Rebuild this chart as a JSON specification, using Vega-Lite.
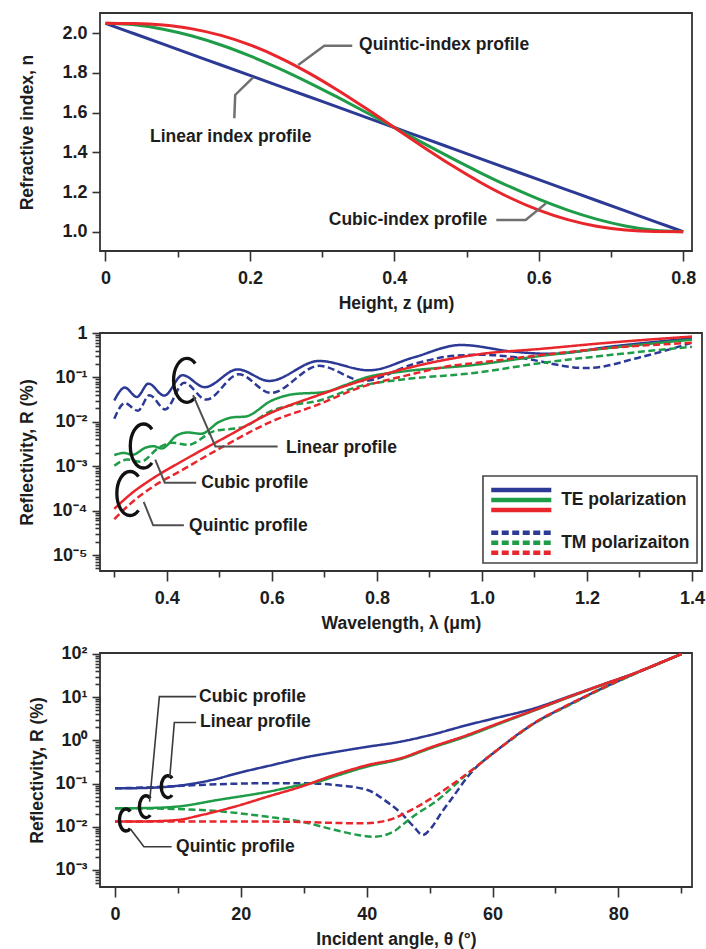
{
  "$schema": "https://vega.github.io/schema/vega-lite/v6.json",
  "background": "white",
  "padding": {"left": 17, "top": 12, "right": 0, "bottom": 0},
  "spacing": 82,
  "bounds": "flush",
  "config": {
    "font": "Liberation Sans, Arial, sans-serif",
    "view": {"stroke": "#333333", "strokeWidth": 1.8},
    "axis": {
      "domain": false, "grid": false,
      "labelFontSize": 18, "labelFontWeight": "bold", "labelColor": "#1d1d1d",
      "titleFontSize": 17.5, "titleFontWeight": "bold", "titleColor": "#1d1d1d",
      "tickColor": "#333333", "tickWidth": 1.6,
      "labelOverlap": false, "labelFlush": false, "labelBound": false
    },
    "axisX": {"labelPadding": 8, "titlePadding": 7},
    "axisY": {"labelPadding": 5, "minExtent": 40, "maxExtent": 40},
    "text": {"fontSize": 17.5, "fontWeight": "bold", "color": "#1d1d1d"}
  },
  "datasets": {
    "index": [
      {"z": 0, "n": 2.05, "p": "Linear"}, {"z": 0.04, "n": 1.9975, "p": "Linear"}, {"z": 0.08, "n": 1.945, "p": "Linear"},
      {"z": 0.12, "n": 1.8925, "p": "Linear"}, {"z": 0.16, "n": 1.84, "p": "Linear"}, {"z": 0.2, "n": 1.7875, "p": "Linear"},
      {"z": 0.24, "n": 1.735, "p": "Linear"}, {"z": 0.28, "n": 1.6825, "p": "Linear"}, {"z": 0.32, "n": 1.63, "p": "Linear"},
      {"z": 0.36, "n": 1.5775, "p": "Linear"}, {"z": 0.4, "n": 1.525, "p": "Linear"}, {"z": 0.44, "n": 1.4725, "p": "Linear"},
      {"z": 0.48, "n": 1.42, "p": "Linear"}, {"z": 0.52, "n": 1.3675, "p": "Linear"}, {"z": 0.56, "n": 1.315, "p": "Linear"},
      {"z": 0.6, "n": 1.2625, "p": "Linear"}, {"z": 0.64, "n": 1.21, "p": "Linear"}, {"z": 0.68, "n": 1.1575, "p": "Linear"},
      {"z": 0.72, "n": 1.105, "p": "Linear"}, {"z": 0.76, "n": 1.0525, "p": "Linear"}, {"z": 0.8, "n": 1.0, "p": "Linear"},
      {"z": 0, "n": 2.05, "p": "Cubic"}, {"z": 0.04, "n": 2.0424, "p": "Cubic"}, {"z": 0.08, "n": 2.0206, "p": "Cubic"},
      {"z": 0.12, "n": 1.9862, "p": "Cubic"}, {"z": 0.16, "n": 1.9408, "p": "Cubic"}, {"z": 0.2, "n": 1.8859, "p": "Cubic"},
      {"z": 0.24, "n": 1.8232, "p": "Cubic"}, {"z": 0.28, "n": 1.7542, "p": "Cubic"}, {"z": 0.32, "n": 1.6804, "p": "Cubic"},
      {"z": 0.36, "n": 1.6035, "p": "Cubic"}, {"z": 0.4, "n": 1.525, "p": "Cubic"}, {"z": 0.44, "n": 1.4465, "p": "Cubic"},
      {"z": 0.48, "n": 1.3696, "p": "Cubic"}, {"z": 0.52, "n": 1.2958, "p": "Cubic"}, {"z": 0.56, "n": 1.2268, "p": "Cubic"},
      {"z": 0.6, "n": 1.1641, "p": "Cubic"}, {"z": 0.64, "n": 1.1092, "p": "Cubic"}, {"z": 0.68, "n": 1.0638, "p": "Cubic"},
      {"z": 0.72, "n": 1.0294, "p": "Cubic"}, {"z": 0.76, "n": 1.0076, "p": "Cubic"}, {"z": 0.8, "n": 1.0, "p": "Cubic"},
      {"z": 0, "n": 2.05, "p": "Quintic"}, {"z": 0.04, "n": 2.0488, "p": "Quintic"}, {"z": 0.08, "n": 2.041, "p": "Quintic"},
      {"z": 0.12, "n": 2.0221, "p": "Quintic"}, {"z": 0.16, "n": 1.9892, "p": "Quintic"}, {"z": 0.2, "n": 1.9413, "p": "Quintic"},
      {"z": 0.24, "n": 1.8788, "p": "Quintic"}, {"z": 0.28, "n": 1.8031, "p": "Quintic"}, {"z": 0.32, "n": 1.7167, "p": "Quintic"},
      {"z": 0.36, "n": 1.6228, "p": "Quintic"}, {"z": 0.4, "n": 1.525, "p": "Quintic"}, {"z": 0.44, "n": 1.4272, "p": "Quintic"},
      {"z": 0.48, "n": 1.3333, "p": "Quintic"}, {"z": 0.52, "n": 1.2469, "p": "Quintic"}, {"z": 0.56, "n": 1.1712, "p": "Quintic"},
      {"z": 0.6, "n": 1.1087, "p": "Quintic"}, {"z": 0.64, "n": 1.0608, "p": "Quintic"}, {"z": 0.68, "n": 1.0279, "p": "Quintic"},
      {"z": 0.72, "n": 1.009, "p": "Quintic"}, {"z": 0.76, "n": 1.0012, "p": "Quintic"}, {"z": 0.8, "n": 1.0, "p": "Quintic"}
    ],
    "spectrum": [
      {"w": 0.30, "R": 0.0302, "p": "Linear", "pol": "TE"}, {"w": 0.32, "R": 0.0589, "p": "Linear", "pol": "TE"},
      {"w": 0.343, "R": 0.0363, "p": "Linear", "pol": "TE"}, {"w": 0.365, "R": 0.0724, "p": "Linear", "pol": "TE"},
      {"w": 0.395, "R": 0.0389, "p": "Linear", "pol": "TE"}, {"w": 0.43, "R": 0.1122, "p": "Linear", "pol": "TE"},
      {"w": 0.472, "R": 0.0603, "p": "Linear", "pol": "TE"}, {"w": 0.535, "R": 0.1514, "p": "Linear", "pol": "TE"},
      {"w": 0.595, "R": 0.0832, "p": "Linear", "pol": "TE"}, {"w": 0.69, "R": 0.2344, "p": "Linear", "pol": "TE"},
      {"w": 0.785, "R": 0.1445, "p": "Linear", "pol": "TE"}, {"w": 0.87, "R": 0.282, "p": "Linear", "pol": "TE"},
      {"w": 0.96, "R": 0.537, "p": "Linear", "pol": "TE"}, {"w": 1.06, "R": 0.38, "p": "Linear", "pol": "TE"},
      {"w": 1.13, "R": 0.339, "p": "Linear", "pol": "TE"}, {"w": 1.25, "R": 0.501, "p": "Linear", "pol": "TE"},
      {"w": 1.40, "R": 0.759, "p": "Linear", "pol": "TE"},
      {"w": 0.30, "R": 0.01175, "p": "Linear", "pol": "TM"}, {"w": 0.32, "R": 0.0263, "p": "Linear", "pol": "TM"},
      {"w": 0.345, "R": 0.01778, "p": "Linear", "pol": "TM"}, {"w": 0.367, "R": 0.0398, "p": "Linear", "pol": "TM"},
      {"w": 0.397, "R": 0.01905, "p": "Linear", "pol": "TM"}, {"w": 0.433, "R": 0.0759, "p": "Linear", "pol": "TM"},
      {"w": 0.475, "R": 0.0316, "p": "Linear", "pol": "TM"}, {"w": 0.537, "R": 0.1175, "p": "Linear", "pol": "TM"},
      {"w": 0.598, "R": 0.0447, "p": "Linear", "pol": "TM"}, {"w": 0.69, "R": 0.182, "p": "Linear", "pol": "TM"},
      {"w": 0.775, "R": 0.0832, "p": "Linear", "pol": "TM"}, {"w": 0.87, "R": 0.1995, "p": "Linear", "pol": "TM"},
      {"w": 0.95, "R": 0.309, "p": "Linear", "pol": "TM"}, {"w": 1.0, "R": 0.324, "p": "Linear", "pol": "TM"},
      {"w": 1.06, "R": 0.288, "p": "Linear", "pol": "TM"}, {"w": 1.2, "R": 0.162, "p": "Linear", "pol": "TM"},
      {"w": 1.3, "R": 0.282, "p": "Linear", "pol": "TM"}, {"w": 1.4, "R": 0.603, "p": "Linear", "pol": "TM"},
      {"w": 0.30, "R": 0.001778, "p": "Cubic", "pol": "TE"}, {"w": 0.318, "R": 0.001995, "p": "Cubic", "pol": "TE"},
      {"w": 0.335, "R": 0.00182, "p": "Cubic", "pol": "TE"}, {"w": 0.36, "R": 0.00263, "p": "Cubic", "pol": "TE"},
      {"w": 0.375, "R": 0.002818, "p": "Cubic", "pol": "TE"}, {"w": 0.39, "R": 0.002512, "p": "Cubic", "pol": "TE"},
      {"w": 0.42, "R": 0.005012, "p": "Cubic", "pol": "TE"}, {"w": 0.44, "R": 0.005754, "p": "Cubic", "pol": "TE"},
      {"w": 0.465, "R": 0.00537, "p": "Cubic", "pol": "TE"}, {"w": 0.5, "R": 0.01, "p": "Cubic", "pol": "TE"},
      {"w": 0.525, "R": 0.01259, "p": "Cubic", "pol": "TE"}, {"w": 0.55, "R": 0.01318, "p": "Cubic", "pol": "TE"},
      {"w": 0.6, "R": 0.0302, "p": "Cubic", "pol": "TE"}, {"w": 0.64, "R": 0.0417, "p": "Cubic", "pol": "TE"},
      {"w": 0.7, "R": 0.0468, "p": "Cubic", "pol": "TE"}, {"w": 0.74, "R": 0.0676, "p": "Cubic", "pol": "TE"},
      {"w": 0.78, "R": 0.1, "p": "Cubic", "pol": "TE"}, {"w": 0.855, "R": 0.138, "p": "Cubic", "pol": "TE"},
      {"w": 0.985, "R": 0.1905, "p": "Cubic", "pol": "TE"}, {"w": 1.11, "R": 0.302, "p": "Cubic", "pol": "TE"},
      {"w": 1.24, "R": 0.457, "p": "Cubic", "pol": "TE"}, {"w": 1.4, "R": 0.708, "p": "Cubic", "pol": "TE"},
      {"w": 0.30, "R": 0.001023, "p": "Cubic", "pol": "TM"}, {"w": 0.325, "R": 0.001413, "p": "Cubic", "pol": "TM"},
      {"w": 0.35, "R": 0.001259, "p": "Cubic", "pol": "TM"}, {"w": 0.385, "R": 0.00263, "p": "Cubic", "pol": "TM"},
      {"w": 0.41, "R": 0.00339, "p": "Cubic", "pol": "TM"}, {"w": 0.44, "R": 0.00302, "p": "Cubic", "pol": "TM"},
      {"w": 0.49, "R": 0.00617, "p": "Cubic", "pol": "TM"}, {"w": 0.545, "R": 0.00759, "p": "Cubic", "pol": "TM"},
      {"w": 0.598, "R": 0.01738, "p": "Cubic", "pol": "TM"}, {"w": 0.64, "R": 0.02399, "p": "Cubic", "pol": "TM"},
      {"w": 0.684, "R": 0.02884, "p": "Cubic", "pol": "TM"}, {"w": 0.77, "R": 0.06457, "p": "Cubic", "pol": "TM"},
      {"w": 0.855, "R": 0.0912, "p": "Cubic", "pol": "TM"}, {"w": 0.985, "R": 0.1259, "p": "Cubic", "pol": "TM"},
      {"w": 1.11, "R": 0.2089, "p": "Cubic", "pol": "TM"}, {"w": 1.24, "R": 0.3162, "p": "Cubic", "pol": "TM"},
      {"w": 1.4, "R": 0.4898, "p": "Cubic", "pol": "TM"},
      {"w": 0.30, "R": 0.0001096, "p": "Quintic", "pol": "TE"}, {"w": 0.332, "R": 0.0002399, "p": "Quintic", "pol": "TE"},
      {"w": 0.37, "R": 0.0005012, "p": "Quintic", "pol": "TE"}, {"w": 0.427, "R": 0.001259, "p": "Quintic", "pol": "TE"},
      {"w": 0.513, "R": 0.004571, "p": "Quintic", "pol": "TE"}, {"w": 0.598, "R": 0.01585, "p": "Quintic", "pol": "TE"},
      {"w": 0.684, "R": 0.038, "p": "Quintic", "pol": "TE"}, {"w": 0.77, "R": 0.0832, "p": "Quintic", "pol": "TE"},
      {"w": 0.855, "R": 0.1585, "p": "Quintic", "pol": "TE"}, {"w": 0.941, "R": 0.263, "p": "Quintic", "pol": "TE"},
      {"w": 1.0, "R": 0.339, "p": "Quintic", "pol": "TE"}, {"w": 1.11, "R": 0.437, "p": "Quintic", "pol": "TE"},
      {"w": 1.24, "R": 0.603, "p": "Quintic", "pol": "TE"}, {"w": 1.4, "R": 0.832, "p": "Quintic", "pol": "TE"},
      {"w": 0.30, "R": 0.0000646, "p": "Quintic", "pol": "TM"}, {"w": 0.332, "R": 0.000148, "p": "Quintic", "pol": "TM"},
      {"w": 0.37, "R": 0.000324, "p": "Quintic", "pol": "TM"}, {"w": 0.427, "R": 0.000794, "p": "Quintic", "pol": "TM"},
      {"w": 0.513, "R": 0.00302, "p": "Quintic", "pol": "TM"}, {"w": 0.598, "R": 0.01, "p": "Quintic", "pol": "TM"},
      {"w": 0.684, "R": 0.0234, "p": "Quintic", "pol": "TM"}, {"w": 0.77, "R": 0.0603, "p": "Quintic", "pol": "TM"},
      {"w": 0.855, "R": 0.1096, "p": "Quintic", "pol": "TM"}, {"w": 0.941, "R": 0.182, "p": "Quintic", "pol": "TM"},
      {"w": 1.0, "R": 0.2188, "p": "Quintic", "pol": "TM"}, {"w": 1.11, "R": 0.316, "p": "Quintic", "pol": "TM"},
      {"w": 1.24, "R": 0.457, "p": "Quintic", "pol": "TM"}, {"w": 1.4, "R": 0.603, "p": "Quintic", "pol": "TM"}
    ],
    "angle": [
      {"a": 0, "R": 0.0776, "p": "Linear", "pol": "TE"}, {"a": 5, "R": 0.0794, "p": "Linear", "pol": "TE"},
      {"a": 10, "R": 0.0891, "p": "Linear", "pol": "TE"}, {"a": 15, "R": 0.1175, "p": "Linear", "pol": "TE"},
      {"a": 20, "R": 0.182, "p": "Linear", "pol": "TE"}, {"a": 25, "R": 0.269, "p": "Linear", "pol": "TE"},
      {"a": 30, "R": 0.398, "p": "Linear", "pol": "TE"}, {"a": 35, "R": 0.537, "p": "Linear", "pol": "TE"},
      {"a": 40, "R": 0.708, "p": "Linear", "pol": "TE"}, {"a": 45, "R": 0.912, "p": "Linear", "pol": "TE"},
      {"a": 50, "R": 1.318, "p": "Linear", "pol": "TE"}, {"a": 56, "R": 2.27, "p": "Linear", "pol": "TE"},
      {"a": 60, "R": 3.162, "p": "Linear", "pol": "TE"}, {"a": 66.6, "R": 5.5, "p": "Linear", "pol": "TE"},
      {"a": 72, "R": 10.23, "p": "Linear", "pol": "TE"}, {"a": 77.25, "R": 19.05, "p": "Linear", "pol": "TE"},
      {"a": 82.5, "R": 35.48, "p": "Linear", "pol": "TE"}, {"a": 90, "R": 100, "p": "Linear", "pol": "TE"},
      {"a": 0, "R": 0.0776, "p": "Linear", "pol": "TM"}, {"a": 5, "R": 0.0813, "p": "Linear", "pol": "TM"},
      {"a": 13.67, "R": 0.0933, "p": "Linear", "pol": "TM"}, {"a": 24.3, "R": 0.1023, "p": "Linear", "pol": "TM"},
      {"a": 30, "R": 0.1023, "p": "Linear", "pol": "TM"}, {"a": 34.85, "R": 0.0933, "p": "Linear", "pol": "TM"},
      {"a": 40.16, "R": 0.0708, "p": "Linear", "pol": "TM"}, {"a": 43, "R": 0.0398, "p": "Linear", "pol": "TM"},
      {"a": 45.5, "R": 0.0204, "p": "Linear", "pol": "TM"}, {"a": 47.5, "R": 0.01, "p": "Linear", "pol": "TM"},
      {"a": 48.9, "R": 0.00646, "p": "Linear", "pol": "TM"}, {"a": 50.3, "R": 0.00955, "p": "Linear", "pol": "TM"},
      {"a": 51.8, "R": 0.0204, "p": "Linear", "pol": "TM"}, {"a": 54, "R": 0.0562, "p": "Linear", "pol": "TM"},
      {"a": 56.05, "R": 0.1445, "p": "Linear", "pol": "TM"}, {"a": 61.3, "R": 0.69, "p": "Linear", "pol": "TM"},
      {"a": 66.64, "R": 2.5, "p": "Linear", "pol": "TM"}, {"a": 71.95, "R": 6.46, "p": "Linear", "pol": "TM"},
      {"a": 77.25, "R": 15.5, "p": "Linear", "pol": "TM"}, {"a": 82.53, "R": 34.7, "p": "Linear", "pol": "TM"},
      {"a": 90, "R": 100, "p": "Linear", "pol": "TM"},
      {"a": 0, "R": 0.0269, "p": "Cubic", "pol": "TE"}, {"a": 5, "R": 0.0272, "p": "Cubic", "pol": "TE"},
      {"a": 10, "R": 0.0295, "p": "Cubic", "pol": "TE"}, {"a": 16.3, "R": 0.0417, "p": "Cubic", "pol": "TE"},
      {"a": 24.3, "R": 0.0646, "p": "Cubic", "pol": "TE"}, {"a": 29.6, "R": 0.0933, "p": "Cubic", "pol": "TE"},
      {"a": 32.2, "R": 0.1096, "p": "Cubic", "pol": "TE"}, {"a": 35, "R": 0.148, "p": "Cubic", "pol": "TE"},
      {"a": 40.2, "R": 0.251, "p": "Cubic", "pol": "TE"}, {"a": 45.45, "R": 0.372, "p": "Cubic", "pol": "TE"},
      {"a": 50, "R": 0.646, "p": "Cubic", "pol": "TE"}, {"a": 56, "R": 1.259, "p": "Cubic", "pol": "TE"},
      {"a": 61, "R": 2.399, "p": "Cubic", "pol": "TE"}, {"a": 66.6, "R": 4.898, "p": "Cubic", "pol": "TE"},
      {"a": 72, "R": 9.77, "p": "Cubic", "pol": "TE"}, {"a": 77.25, "R": 18.62, "p": "Cubic", "pol": "TE"},
      {"a": 82.5, "R": 35.08, "p": "Cubic", "pol": "TE"}, {"a": 90, "R": 100, "p": "Cubic", "pol": "TE"},
      {"a": 0, "R": 0.0269, "p": "Cubic", "pol": "TM"}, {"a": 5, "R": 0.0266, "p": "Cubic", "pol": "TM"},
      {"a": 13.67, "R": 0.0245, "p": "Cubic", "pol": "TM"}, {"a": 24.3, "R": 0.017, "p": "Cubic", "pol": "TM"},
      {"a": 29.6, "R": 0.0132, "p": "Cubic", "pol": "TM"}, {"a": 34.85, "R": 0.00851, "p": "Cubic", "pol": "TM"},
      {"a": 38.6, "R": 0.00646, "p": "Cubic", "pol": "TM"}, {"a": 41.2, "R": 0.00589, "p": "Cubic", "pol": "TM"},
      {"a": 44.4, "R": 0.00794, "p": "Cubic", "pol": "TM"}, {"a": 45.45, "R": 0.01047, "p": "Cubic", "pol": "TM"},
      {"a": 48, "R": 0.02, "p": "Cubic", "pol": "TM"}, {"a": 50.75, "R": 0.0363, "p": "Cubic", "pol": "TM"},
      {"a": 56.05, "R": 0.17, "p": "Cubic", "pol": "TM"}, {"a": 61.35, "R": 0.69, "p": "Cubic", "pol": "TM"},
      {"a": 66.64, "R": 2.45, "p": "Cubic", "pol": "TM"}, {"a": 71.95, "R": 6.3, "p": "Cubic", "pol": "TM"},
      {"a": 77.25, "R": 15.2, "p": "Cubic", "pol": "TM"}, {"a": 82.53, "R": 34.2, "p": "Cubic", "pol": "TM"},
      {"a": 90, "R": 100, "p": "Cubic", "pol": "TM"},
      {"a": 0, "R": 0.01318, "p": "Quintic", "pol": "TE"}, {"a": 5, "R": 0.01334, "p": "Quintic", "pol": "TE"},
      {"a": 10, "R": 0.01445, "p": "Quintic", "pol": "TE"}, {"a": 13.67, "R": 0.0186, "p": "Quintic", "pol": "TE"},
      {"a": 19, "R": 0.0292, "p": "Quintic", "pol": "TE"}, {"a": 24.3, "R": 0.0501, "p": "Quintic", "pol": "TE"},
      {"a": 29.6, "R": 0.0851, "p": "Quintic", "pol": "TE"}, {"a": 34.85, "R": 0.1585, "p": "Quintic", "pol": "TE"},
      {"a": 40.2, "R": 0.269, "p": "Quintic", "pol": "TE"}, {"a": 45.45, "R": 0.389, "p": "Quintic", "pol": "TE"},
      {"a": 50, "R": 0.676, "p": "Quintic", "pol": "TE"}, {"a": 56, "R": 1.334, "p": "Quintic", "pol": "TE"},
      {"a": 61, "R": 2.512, "p": "Quintic", "pol": "TE"}, {"a": 66.6, "R": 5.012, "p": "Quintic", "pol": "TE"},
      {"a": 72, "R": 10, "p": "Quintic", "pol": "TE"}, {"a": 77.25, "R": 19.05, "p": "Quintic", "pol": "TE"},
      {"a": 82.5, "R": 35.48, "p": "Quintic", "pol": "TE"}, {"a": 90, "R": 100, "p": "Quintic", "pol": "TE"},
      {"a": 0, "R": 0.01318, "p": "Quintic", "pol": "TM"}, {"a": 13.67, "R": 0.01318, "p": "Quintic", "pol": "TM"},
      {"a": 24.27, "R": 0.01318, "p": "Quintic", "pol": "TM"}, {"a": 30, "R": 0.01288, "p": "Quintic", "pol": "TM"},
      {"a": 34.85, "R": 0.0123, "p": "Quintic", "pol": "TM"}, {"a": 39.1, "R": 0.012, "p": "Quintic", "pol": "TM"},
      {"a": 42, "R": 0.01288, "p": "Quintic", "pol": "TM"}, {"a": 44.4, "R": 0.01585, "p": "Quintic", "pol": "TM"},
      {"a": 45.45, "R": 0.0186, "p": "Quintic", "pol": "TM"}, {"a": 50.75, "R": 0.0501, "p": "Quintic", "pol": "TM"},
      {"a": 56.05, "R": 0.1738, "p": "Quintic", "pol": "TM"}, {"a": 61.35, "R": 0.70, "p": "Quintic", "pol": "TM"},
      {"a": 66.64, "R": 2.55, "p": "Quintic", "pol": "TM"}, {"a": 71.95, "R": 6.6, "p": "Quintic", "pol": "TM"},
      {"a": 77.25, "R": 15.8, "p": "Quintic", "pol": "TM"}, {"a": 82.53, "R": 35.2, "p": "Quintic", "pol": "TM"},
      {"a": 90, "R": 100, "p": "Quintic", "pol": "TM"}
    ]
  },
  "vconcat": [
    {
      "width": 592,
      "height": 238,
      "layer": [
        {
          "data": {"name": "index"},
          "mark": {"type": "line", "interpolate": "monotone", "strokeWidth": 3},
          "encoding": {
            "x": {
              "field": "z", "type": "quantitative",
              "scale": {"domain": [-0.0076, 0.8122], "nice": false, "zero": false},
              "axis": {
                "title": "Height, z (μm)",
                "values": [0, 0.1, 0.2, 0.3, 0.4, 0.5, 0.6, 0.7, 0.8],
                "labelExpr": "round(datum.value*10) % 2 == 0 ? (datum.value == 0 ? '0' : format(datum.value, '.1f')) : ''",
                "tickSize": {"condition": {"test": "round(datum.value*10) % 2 == 0", "value": 10}, "value": 6}
              }
            },
            "y": {
              "field": "n", "type": "quantitative",
              "scale": {"domain": [0.903, 2.102], "nice": false, "zero": false},
              "axis": {
                "title": "Refractive index, n",
                "titlePadding": 24,
                "values": [1.0, 1.1, 1.2, 1.3, 1.4, 1.5, 1.6, 1.7, 1.8, 1.9, 2.0],
                "labelExpr": "round(datum.value*10) % 2 == 0 ? format(datum.value, '.1f') : ''",
                "tickSize": {"condition": {"test": "round(datum.value*10) % 2 == 0", "value": 8}, "value": 5}
              }
            },
            "color": {
              "field": "p", "type": "nominal",
              "scale": {"domain": ["Linear", "Cubic", "Quintic"], "range": ["#2c3a96", "#1e9c48", "#e9262b"]},
              "legend": null
            }
          }
        },
        {
          "data": {"values": [
            {"z": 0.3417, "n": 1.9375, "k": "q", "o": 1}, {"z": 0.303, "n": 1.9375, "k": "q", "o": 2}, {"z": 0.2669, "n": 1.84, "k": "q", "o": 3},
            {"z": 0.1784, "n": 1.5716, "k": "l", "o": 1}, {"z": 0.1796, "n": 1.689, "k": "l", "o": 2}, {"z": 0.2045, "n": 1.778, "k": "l", "o": 3},
            {"z": 0.5412, "n": 1.059, "k": "c", "o": 1}, {"z": 0.5818, "n": 1.059, "k": "c", "o": 2}, {"z": 0.6099, "n": 1.143, "k": "c", "o": 3}
          ]},
          "mark": {"type": "line", "color": "#707070", "strokeWidth": 2.5},
          "encoding": {
            "x": {"field": "z", "type": "quantitative"},
            "y": {"field": "n", "type": "quantitative"},
            "detail": {"field": "k"},
            "order": {"field": "o", "type": "quantitative"}
          }
        },
        {
          "data": {"values": [{"z": 0.3511, "n": 1.941, "t": "Quintic-index profile"}]},
          "mark": {"type": "text", "align": "left", "baseline": "middle"},
          "encoding": {
            "x": {"field": "z", "type": "quantitative"},
            "y": {"field": "n", "type": "quantitative"},
            "text": {"field": "t"}
          }
        },
        {
          "data": {"values": [{"z": 0.1734, "n": 1.476, "t": "Linear index profile"}]},
          "mark": {"type": "text", "align": "center", "baseline": "middle"},
          "encoding": {
            "x": {"field": "z", "type": "quantitative"},
            "y": {"field": "n", "type": "quantitative"},
            "text": {"field": "t"}
          }
        },
        {
          "data": {"values": [{"z": 0.5287, "n": 1.059, "t": "Cubic-index profile"}]},
          "mark": {"type": "text", "align": "right", "baseline": "middle"},
          "encoding": {
            "x": {"field": "z", "type": "quantitative"},
            "y": {"field": "n", "type": "quantitative"},
            "text": {"field": "t"}
          }
        }
      ]
    },
    {
      "width": 602,
      "height": 238,
      "layer": [
        {
          "data": {"name": "spectrum"},
          "mark": {"type": "line", "interpolate": "monotone", "strokeWidth": 2.5},
          "encoding": {
            "x": {
              "field": "w", "type": "quantitative",
              "scale": {"domain": [0.2728, 1.419], "nice": false, "zero": false},
              "axis": {
                "title": "Wavelength, λ (μm)",
                "values": [0.3, 0.4, 0.5, 0.6, 0.7, 0.8, 0.9, 1.0, 1.1, 1.2, 1.3, 1.4],
                "labelExpr": "round(datum.value*10) % 2 == 0 ? format(datum.value, '.1f') : ''",
                "tickSize": {"condition": {"test": "round(datum.value*10) % 2 == 0", "value": 10}, "value": 6}
              }
            },
            "y": {
              "field": "R", "type": "quantitative",
              "scale": {"type": "log", "domain": [0.00000437, 1], "nice": false},
              "axis": {
                "title": "Reflectivity, R (%)",
                "titlePadding": 24,
                "values": [0.000005, 0.000006, 0.000007, 0.000008, 0.000009,
                           0.00001, 0.00002, 0.00003, 0.00004, 0.00005, 0.00006, 0.00007, 0.00008, 0.00009,
                           0.0001, 0.0002, 0.0003, 0.0004, 0.0005, 0.0006, 0.0007, 0.0008, 0.0009,
                           0.001, 0.002, 0.003, 0.004, 0.005, 0.006, 0.007, 0.008, 0.009,
                           0.01, 0.02, 0.03, 0.04, 0.05, 0.06, 0.07, 0.08, 0.09,
                           0.1, 0.2, 0.3, 0.4, 0.5, 0.6, 0.7, 0.8, 0.9, 1],
                "labelExpr": "abs(log(datum.value)/LN10 - round(log(datum.value)/LN10)) < 0.01 ? (datum.value > 0.5 ? '1' : '10' + ['⁻⁵','⁻⁴','⁻³','⁻²','⁻¹'][round(log(datum.value)/LN10) + 5]) : ''",
                "tickSize": {"condition": {"test": "abs(log(datum.value)/LN10 - round(log(datum.value)/LN10)) < 0.01", "value": 8}, "value": 5}
              }
            },
            "color": {
              "field": "p", "type": "nominal",
              "scale": {"domain": ["Linear", "Cubic", "Quintic"], "range": ["#2c3a96", "#1e9c48", "#e9262b"]},
              "legend": null
            },
            "strokeDash": {
              "field": "pol", "type": "nominal",
              "scale": {"domain": ["TE", "TM"], "range": [[1, 0], [7, 3.5]]},
              "legend": null
            },
            "detail": {"field": "pol"}
          }
        },
        {
          "data": {"values": [{"w": 0.438, "R": 0.0861}, {"w": 0.3556, "R": 0.00285}, {"w": 0.33, "R": 0.000243}]},
          "mark": {
            "type": "point", "filled": false, "stroke": "#111111", "strokeWidth": 3.3, "opacity": 1, "size": 1936,
            "shape": "M0.386,-0.766 C0.278,-0.917 0.141,-1 0,-1 C-0.331,-1 -0.6,-0.552 -0.6,0 C-0.6,0.552 -0.331,1 0,1 C0.141,1 0.278,0.917 0.386,0.766"
          },
          "encoding": {
            "x": {"field": "w", "type": "quantitative"},
            "y": {"field": "R", "type": "quantitative", "scale": {"type": "log"}}
          }
        },
        {
          "data": {"values": [
            {"w": 0.45, "R": 0.0398, "k": "l", "o": 1}, {"w": 0.4925, "R": 0.00278, "k": "l", "o": 2}, {"w": 0.611, "R": 0.00278, "k": "l", "o": 3},
            {"w": 0.378, "R": 0.00141, "k": "c", "o": 1}, {"w": 0.396, "R": 0.000425, "k": "c", "o": 2}, {"w": 0.456, "R": 0.000425, "k": "c", "o": 3},
            {"w": 0.356, "R": 0.000158, "k": "q", "o": 1}, {"w": 0.374, "R": 0.0000468, "k": "q", "o": 2}, {"w": 0.4325, "R": 0.0000468, "k": "q", "o": 3}
          ]},
          "mark": {"type": "line", "color": "#505050", "strokeWidth": 2},
          "encoding": {
            "x": {"field": "w", "type": "quantitative"},
            "y": {"field": "R", "type": "quantitative", "scale": {"type": "log"}},
            "detail": {"field": "k"},
            "order": {"field": "o", "type": "quantitative"}
          }
        },
        {
          "data": {"values": [
            {"w": 0.627, "R": 0.00251, "t": "Linear profile"},
            {"w": 0.4658, "R": 0.000425, "t": "Cubic profile"},
            {"w": 0.4424, "R": 0.0000447, "t": "Quintic profile"}
          ]},
          "mark": {"type": "text", "align": "left", "baseline": "middle"},
          "encoding": {
            "x": {"field": "w", "type": "quantitative"},
            "y": {"field": "R", "type": "quantitative", "scale": {"type": "log"}},
            "text": {"field": "t"}
          }
        },
        {
          "data": {"values": [{"w": 1.002, "w2": 1.4095, "R": 0.000601, "R2": 0.0000066}]},
          "mark": {"type": "rect", "fill": "white", "stroke": "#444444", "strokeWidth": 1.6},
          "encoding": {
            "x": {"field": "w", "type": "quantitative"},
            "x2": {"field": "w2"},
            "y": {"field": "R", "type": "quantitative", "scale": {"type": "log"}},
            "y2": {"field": "R2"}
          }
        },
        {
          "data": {"values": [
            {"w": 1.0177, "w2": 1.1321, "R": 0.000291, "p": "Linear", "pol": "TE"},
            {"w": 1.0177, "w2": 1.1321, "R": 0.000173, "p": "Cubic", "pol": "TE"},
            {"w": 1.0177, "w2": 1.1321, "R": 0.000103, "p": "Quintic", "pol": "TE"},
            {"w": 1.0177, "w2": 1.1321, "R": 0.0000318, "p": "Linear", "pol": "TM"},
            {"w": 1.0177, "w2": 1.1321, "R": 0.0000189, "p": "Cubic", "pol": "TM"},
            {"w": 1.0177, "w2": 1.1321, "R": 0.0000113, "p": "Quintic", "pol": "TM"}
          ]},
          "mark": {"type": "rule", "strokeWidth": 4.5},
          "encoding": {
            "x": {"field": "w", "type": "quantitative"},
            "x2": {"field": "w2"},
            "y": {"field": "R", "type": "quantitative", "scale": {"type": "log"}},
            "color": {"field": "p", "type": "nominal", "legend": null},
            "strokeDash": {"field": "pol", "type": "nominal", "legend": null}
          }
        },
        {
          "data": {"values": [
            {"w": 1.1508, "R": 0.000173, "t": "TE polarization"},
            {"w": 1.1508, "R": 0.0000189, "t": "TM polarizaiton"}
          ]},
          "mark": {"type": "text", "align": "left", "baseline": "middle"},
          "encoding": {
            "x": {"field": "w", "type": "quantitative"},
            "y": {"field": "R", "type": "quantitative", "scale": {"type": "log"}},
            "text": {"field": "t"}
          }
        }
      ]
    },
    {
      "width": 592,
      "height": 234,
      "layer": [
        {
          "data": {"name": "angle"},
          "mark": {"type": "line", "interpolate": "monotone", "strokeWidth": 2.5},
          "encoding": {
            "x": {
              "field": "a", "type": "quantitative",
              "scale": {"domain": [-2.384, 91.7], "nice": false, "zero": false},
              "axis": {
                "title": "Incident angle, θ (°)",
                "values": [0, 10, 20, 30, 40, 50, 60, 70, 80, 90],
                "labelExpr": "datum.value % 20 == 0 ? format(datum.value, 'd') : ''",
                "tickSize": {"condition": {"test": "datum.value % 20 == 0", "value": 10}, "value": 6}
              }
            },
            "y": {
              "field": "R", "type": "quantitative",
              "scale": {"type": "log", "domain": [0.000404, 105.4], "nice": false},
              "axis": {
                "title": "Reflectivity, R (%)",
                "titlePadding": 14,
                "values": [0.0005, 0.0006, 0.0007, 0.0008, 0.0009,
                           0.001, 0.002, 0.003, 0.004, 0.005, 0.006, 0.007, 0.008, 0.009,
                           0.01, 0.02, 0.03, 0.04, 0.05, 0.06, 0.07, 0.08, 0.09,
                           0.1, 0.2, 0.3, 0.4, 0.5, 0.6, 0.7, 0.8, 0.9,
                           1, 2, 3, 4, 5, 6, 7, 8, 9,
                           10, 20, 30, 40, 50, 60, 70, 80, 90, 100],
                "labelExpr": "abs(log(datum.value)/LN10 - round(log(datum.value)/LN10)) < 0.01 ? '10' + ['⁻³','⁻²','⁻¹','⁰','¹','²'][round(log(datum.value)/LN10) + 3] : ''",
                "tickSize": {"condition": {"test": "abs(log(datum.value)/LN10 - round(log(datum.value)/LN10)) < 0.01", "value": 8}, "value": 5}
              }
            },
            "color": {
              "field": "p", "type": "nominal",
              "scale": {"domain": ["Linear", "Cubic", "Quintic"], "range": ["#2c3a96", "#1e9c48", "#e9262b"]},
              "legend": null
            },
            "strokeDash": {
              "field": "pol", "type": "nominal",
              "scale": {"domain": ["TE", "TM"], "range": [[1, 0], [9, 4]]},
              "legend": null
            },
            "detail": {"field": "pol"}
          }
        },
        {
          "data": {"values": [{"a": 8.4, "R": 0.0847}, {"a": 4.93, "R": 0.0292}, {"a": 1.75, "R": 0.01435}]},
          "mark": {
            "type": "point", "filled": false, "stroke": "#111111", "strokeWidth": 3.4, "opacity": 1, "size": 484,
            "shape": "M0.386,-0.766 C0.278,-0.917 0.141,-1 0,-1 C-0.331,-1 -0.6,-0.552 -0.6,0 C-0.6,0.552 -0.331,1 0,1 C0.141,1 0.278,0.917 0.386,0.766"
          },
          "encoding": {
            "x": {"field": "a", "type": "quantitative"},
            "y": {"field": "R", "type": "quantitative", "scale": {"type": "log"}}
          }
        },
        {
          "data": {"values": [
            {"a": 5.5, "R": 0.038, "k": "c", "o": 1}, {"a": 7.05, "R": 10.28, "k": "c", "o": 2}, {"a": 12.9, "R": 10.28, "k": "c", "o": 3},
            {"a": 8.7, "R": 0.138, "k": "l", "o": 1}, {"a": 9.43, "R": 2.6, "k": "l", "o": 2}, {"a": 12.9, "R": 2.6, "k": "l", "o": 3},
            {"a": 2.45, "R": 0.00891, "k": "q", "o": 1}, {"a": 4.6, "R": 0.00346, "k": "q", "o": 2}, {"a": 9.0, "R": 0.00346, "k": "q", "o": 3}
          ]},
          "mark": {"type": "line", "color": "#3a3a3a", "strokeWidth": 1.6},
          "encoding": {
            "x": {"field": "a", "type": "quantitative"},
            "y": {"field": "R", "type": "quantitative", "scale": {"type": "log"}},
            "detail": {"field": "k"},
            "order": {"field": "o", "type": "quantitative"}
          }
        },
        {
          "data": {"values": [
            {"a": 13.35, "R": 10.28, "t": "Cubic profile"},
            {"a": 13.5, "R": 2.6, "t": "Linear profile"},
            {"a": 9.7, "R": 0.00346, "t": "Quintic profile"}
          ]},
          "mark": {"type": "text", "align": "left", "baseline": "middle"},
          "encoding": {
            "x": {"field": "a", "type": "quantitative"},
            "y": {"field": "R", "type": "quantitative", "scale": {"type": "log"}},
            "text": {"field": "t"}
          }
        }
      ]
    }
  ]
}
